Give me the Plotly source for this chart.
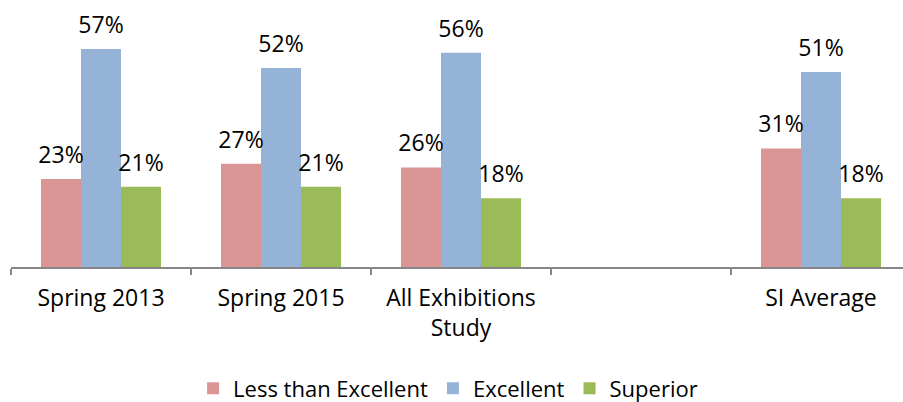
import plotly.graph_objects as go

categories = ["Spring 2013", "Spring 2015", "All Exhibitions<br>Study", " ", "SI Average"]
less_than_excellent = [0.23, 0.27, 0.26, None, 0.31]
excellent = [0.57, 0.52, 0.56, None, 0.51]
superior = [0.21, 0.21, 0.18, None, 0.18]

series = [
    ("Less than Excellent", less_than_excellent, "#D99694"),
    ("Excellent", excellent, "#95B3D7"),
    ("Superior", superior, "#9BBB59"),
]

FONT = "Open Sans"
bargap = 1 / 3
bar_w = (1 - bargap) / len(series)

fig = go.Figure()
for name, vals, color in series:
    fig.add_trace(go.Bar(
        x=categories, y=vals, name=name,
        marker=dict(color=color, line=dict(width=0)),
        hoverinfo="skip",
    ))

# data labels on an overlaying numeric axis aligned with the category axis
for si, (name, vals, color) in enumerate(series):
    xs, ys, ts = [], [], []
    for ci, v in enumerate(vals):
        if v is None:
            continue
        xs.append(ci + (si - (len(series) - 1) / 2) * bar_w)
        ys.append(v)
        ts.append(f"{round(v*100)}%")
    fig.add_trace(go.Scatter(
        x=xs, y=ys, text=ts, mode="markers+text", textposition="top center",
        marker=dict(size=15, opacity=0),
        textfont=dict(family=FONT, size=23, color="#000000"),
        xaxis="x2", showlegend=False, hoverinfo="skip", cliponaxis=False,
    ))

xr = [-0.5, 4.5 - 8 / 180]
fig.update_layout(
    width=903, height=402,
    margin=dict(l=11, r=0, t=0, b=135, autoexpand=False),
    paper_bgcolor="white", plot_bgcolor="white",
    barmode="group", bargap=bargap, bargroupgap=0,
    font=dict(family=FONT, size=23, color="#000000"),
    xaxis=dict(
        type="category", range=xr, showline=True, linecolor="#868686", linewidth=1.5,
        ticks="outside", tickson="boundaries", ticklen=6, tickcolor="#868686",
        tickwidth=1.5, showgrid=False, zeroline=False, automargin=False,
        ticklabelstandoff=10,
        tickfont=dict(family=FONT, size=23, color="#000000"),
    ),
    xaxis2=dict(overlaying="x", range=xr, visible=False, showgrid=False, zeroline=False),
    yaxis=dict(range=[0, 0.698], visible=False, showgrid=False, zeroline=False),
    legend=dict(
        orientation="h", x=0.49, xanchor="center", y=-0.455, yanchor="middle",
        font=dict(family=FONT, size=22, color="#000000"),
        itemsizing="constant",
    ),
)

fig.write_html(
    "out.html",
    config={"displayModeBar": False},
    post_script="document.body.style.margin='0';document.body.style.overflow='hidden';",
)
